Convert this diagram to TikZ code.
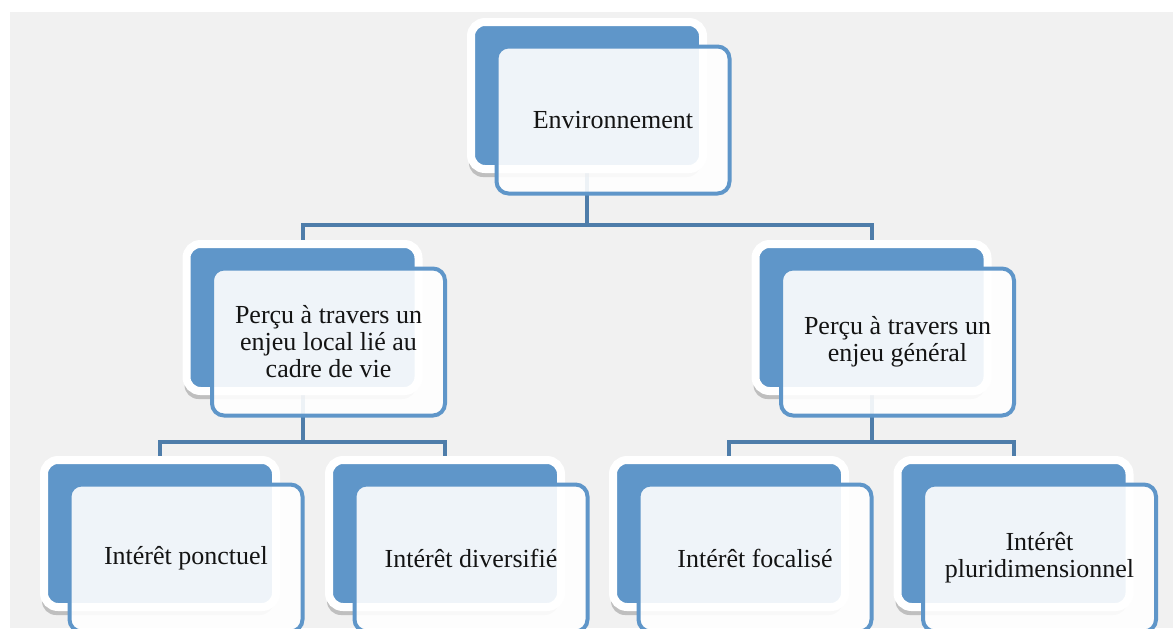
\documentclass[tikz,border=0pt]{standalone}
\usepackage{fontspec}
\setmainfont{Liberation Serif}
\usepackage{tikz}
\usetikzlibrary{shadows, backgrounds, positioning}

\definecolor{boxblue}{HTML}{5F96C9}
\definecolor{linkblue}{HTML}{4E7DAA}
\definecolor{panel}{HTML}{F1F1F1}
\definecolor{ink}{HTML}{141414}

\begin{document}
\begin{tikzpicture}[
  x=0.5pt, y=-0.5pt,
  back/.style={
    draw=white, line width=4pt, fill=boxblue, rounded corners=7pt,
    minimum width=116pt, minimum height=73.5pt, inner sep=0pt,
    drop shadow={shadow xshift=-1pt, shadow yshift=-4pt, opacity=0.3, fill=black!70}
  },
  front/.style={
    draw=boxblue, line width=2pt, fill=white, fill opacity=0.9, text opacity=1,
    rounded corners=6pt, minimum width=116.5pt, minimum height=73.5pt,
    inner sep=0pt, align=center, text=ink,
    font=\fontsize{13pt}{13.5pt}\selectfont
  },
  conn/.style={draw=linkblue, line width=2pt}
]
\useasboundingbox (0,0) rectangle (1173,628);

% 1. Root node
\node[back] (env) at (587,95.5) {};
\node[front] (envf) at ([xshift=13pt,yshift=-12.25pt]env.center) {Environnement};

% 2. Second level
\node[back] (local) at (302.5,317.5) {};
\node[front] (localf) at ([xshift=13pt,yshift=-12.25pt]local.center) {
  Perçu à travers un\\ enjeu local lié au\\ cadre de vie
};

\node[back] (general) at (871.5,317.5) {};
\node[front] (generalf) at ([xshift=13pt,yshift=-12.25pt]general.center) {
  Perçu à travers un\\ enjeu général
};

% 3. Leaves
\node[back] (ponct) at (160,533.5) {};
\node[front] (ponctf) at ([xshift=13pt,yshift=-12.25pt]ponct.center) {Intérêt ponctuel};

\node[back] (divers) at (445,533.5) {};
\node[front] (diversf) at ([xshift=13pt,yshift=-12.25pt]divers.center) {Intérêt diversifié};

\node[back] (focal) at (729,533.5) {};
\node[front] (focalf) at ([xshift=13pt,yshift=-12.25pt]focal.center) {Intérêt focalisé};

\node[back] (pluri) at (1013.5,533.5) {};
\node[front] (plurif) at ([xshift=13pt,yshift=-12.25pt]pluri.center) {
  Intérêt\\ pluridimensionnel
};

% Panel and connectors behind the boxes
\begin{pgfonlayer}{background}
  \fill[panel] (10,12) rectangle (1173,628);
  \draw[conn] (env.south) -- ++(0,52) -| (local.north);
  \draw[conn] (env.south) -- ++(0,52) -| (general.north);
  \draw[conn] (local.south) -- ++(0,46.5) -| (ponct.north);
  \draw[conn] (local.south) -- ++(0,46.5) -| (divers.north);
  \draw[conn] (general.south) -- ++(0,46.5) -| (focal.north);
  \draw[conn] (general.south) -- ++(0,46.5) -| (pluri.north);
\end{pgfonlayer}

\end{tikzpicture}
\end{document}
